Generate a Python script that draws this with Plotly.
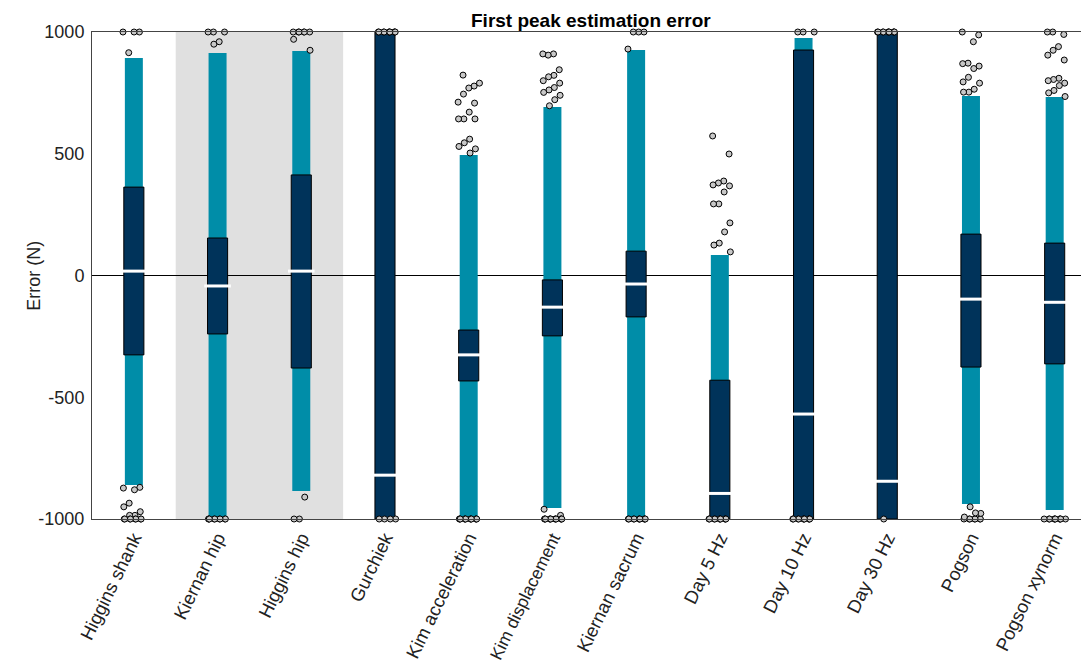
import plotly.graph_objects as go

labels = ["Higgins shank", "Kiernan hip", "Higgins hip", "Gurchiek", "Kim acceleration",
          "Kim displacement", "Kiernan sacrum", "Day 5 Hz", "Day 10 Hz", "Day 30 Hz",
          "Pogson", "Pogson xynorm"]

whisker_low = [-860, -1000, -885, -1000, -1000, -955, -1000, -1000, -1000, -1000, -938, -963]
whisker_high = [893, 914, 922, 1000, 495, 692, 926, 84, 975, 1000, 737, 733]
q1 = [-326, -240, -380, -1000, -433, -248, -170, -1000, -1000, -1000, -376, -363]
q3 = [363, 154, 413, 1000, -224, -18, 100, -430, 926, 1000, 170, 133]
median = [18, -43, 18, -820, -326, -130, -35, -895, -569, -845, -97, -110]

outliers = [
    [1000, 1000, 1000, 915, -873, -870, -880, -935, -950, -970, -985, -985,
     -1000, -1000, -1000, -1000, -1000, -1000, -1000, -1000],
    [1000, 1000, 1000, 960, 950, -1000, -1000, -1000, -1000, -1000, -1000, -1000, -1000, -1000],
    [1000, 1000, 1000, 1000, 1000, 1000, 970, 925, -910, -1000, -1000],
    [1000, 1000, 1000, 1000, 1000, 1000, 1000, 1000, 1000, 1000, -1000, -1000, -1000, -1000],
    [823, 790, 778, 770, 745, 712, 708, 671, 643, 643, 643, 560, 545, 530, 520, 503,
     -1000, -1000, -1000, -1000, -1000, -1000, -1000, -1000, -1000, -1000, -1000, -1000],
    [910, 905, 910, 845, 822, 816, 800, 790, 772, 762, 752, 740, 722, 697, -960, -985,
     -1000, -1000, -1000, -1000, -1000, -1000, -1000, -1000, -1000, -1000, -1000, -1000],
    [1000, 1000, 1000, 930, -1000, -1000, -1000, -1000, -1000, -1000, -1000, -1000, -1000, -1000],
    [573, 499, 388, 380, 372, 368, 343, 294, 294, 216, 179, 133, 125, 97,
     -1000, -1000, -1000, -1000, -1000, -1000, -1000, -1000, -1000, -1000],
    [1000, 1000, 1000, -1000, -1000, -1000, -1000, -1000, -1000, -1000, -1000, -1000, -1000],
    [1000, 1000, 1000, 1000, 1000, 1000, 1000, 1000, 1000, 1000, -1000],
    [1000, 988, 960, 872, 870, 860, 850, 814, 795, 790, 765, 753, 753,
     -1000, -1000, -1000, -1000, -1000, -1000, -1000, -992, -977, -975, -950],
    [1000, 1000, 990, 940, 925, 905, 885, 810, 805, 800, 790, 780, 760, 750, 735,
     -1000, -1000, -1000, -1000, -1000, -1000, -1000, -1000, -1000, -1000],
]

TEAL = "#008DA8"
NAVY = "#00335A"
FONT = "Arial, Liberation Sans, sans-serif"

xs = list(range(len(labels)))
# the longest label is drawn a touch smaller so that it stays inside the page
SMALL_LABELS = {"Kim displacement"}
tick_text = [f'<span style="font-size:17.5px">{t}</span>' if t in SMALL_LABELS else t
             for t in labels]

fig = go.Figure()

# whiskers (teal)
fig.add_trace(go.Bar(
    x=xs, base=whisker_low, y=[h - l for h, l in zip(whisker_high, whisker_low)],
    width=0.215, marker=dict(color=TEAL, line=dict(width=0)), hoverinfo="skip",
))
# IQR boxes (navy)
fig.add_trace(go.Bar(
    x=xs, base=q1, y=[b - a for a, b in zip(q1, q3)],
    width=0.24, marker=dict(color=NAVY, line=dict(color="black", width=1)), hoverinfo="skip",
))
# medians
fig.add_trace(go.Scatter(
    x=xs, y=median, mode="markers",
    marker=dict(symbol="line-ew", size=19, line=dict(color="white", width=3)),
    hoverinfo="skip",
))
# outliers with deterministic jitter
ox, oy = [], []
for i, vals in enumerate(outliers):
    for k, v in enumerate(vals):
        frac = (k * 0.754877 + i * 0.31) % 1.0
        ox.append(i + 0.13 * (frac * 2 - 1))
        oy.append(v)
fig.add_trace(go.Scatter(
    x=ox, y=oy, mode="markers", cliponaxis=False,
    marker=dict(size=6, color="#C8C8C8", line=dict(color="black", width=1)),
    hoverinfo="skip",
))

fig.add_shape(type="rect", xref="x", yref="y", x0=0.5, x1=2.5, y0=-1000, y1=1000,
              fillcolor="#E0E0E0", line=dict(width=0), layer="below")

fig.add_annotation(text="Error (N)", xref="paper", yref="paper", x=-0.059, y=0.5,
                   xanchor="center", yanchor="middle", textangle=-90, showarrow=False,
                   font=dict(size=18, color="#222222"))

fig.add_annotation(text="<b>First peak estimation error</b>", xref="paper", yref="paper",
                   x=0.5, y=1.0236, xanchor="center", yanchor="middle", showarrow=False,
                   font=dict(size=19, color="black"))

fig.update_layout(
    width=1081, height=656,
    margin=dict(l=84, r=0, t=24, b=145),
    barmode="overlay",
    showlegend=False,
    plot_bgcolor="white",
    paper_bgcolor="white",
    font=dict(family=FONT, color="#222222"),
)
fig.update_xaxes(
    range=[-0.5, 11.41], tickvals=xs, ticktext=tick_text, tickangle=-64, automargin=False,
    tickfont=dict(size=18.5, color="#222222"), showgrid=False, zeroline=False,
    showline=True, linecolor="#444444", linewidth=1, mirror=True, ticks="",
)
fig.update_yaxes(
    range=[-1000, 1000], tickvals=[-1000, -500, 0, 500, 1000],
    ticktext=["-1000", "-500", "0", "500", "1000"], automargin=False,
    tickfont=dict(size=18, color="#222222"), showgrid=False,
    zeroline=True, zerolinecolor="black", zerolinewidth=1,
    showline=True, linecolor="#444444", linewidth=1, ticks="", ticklabelstandoff=3,
)

fig.write_html("out.html")
